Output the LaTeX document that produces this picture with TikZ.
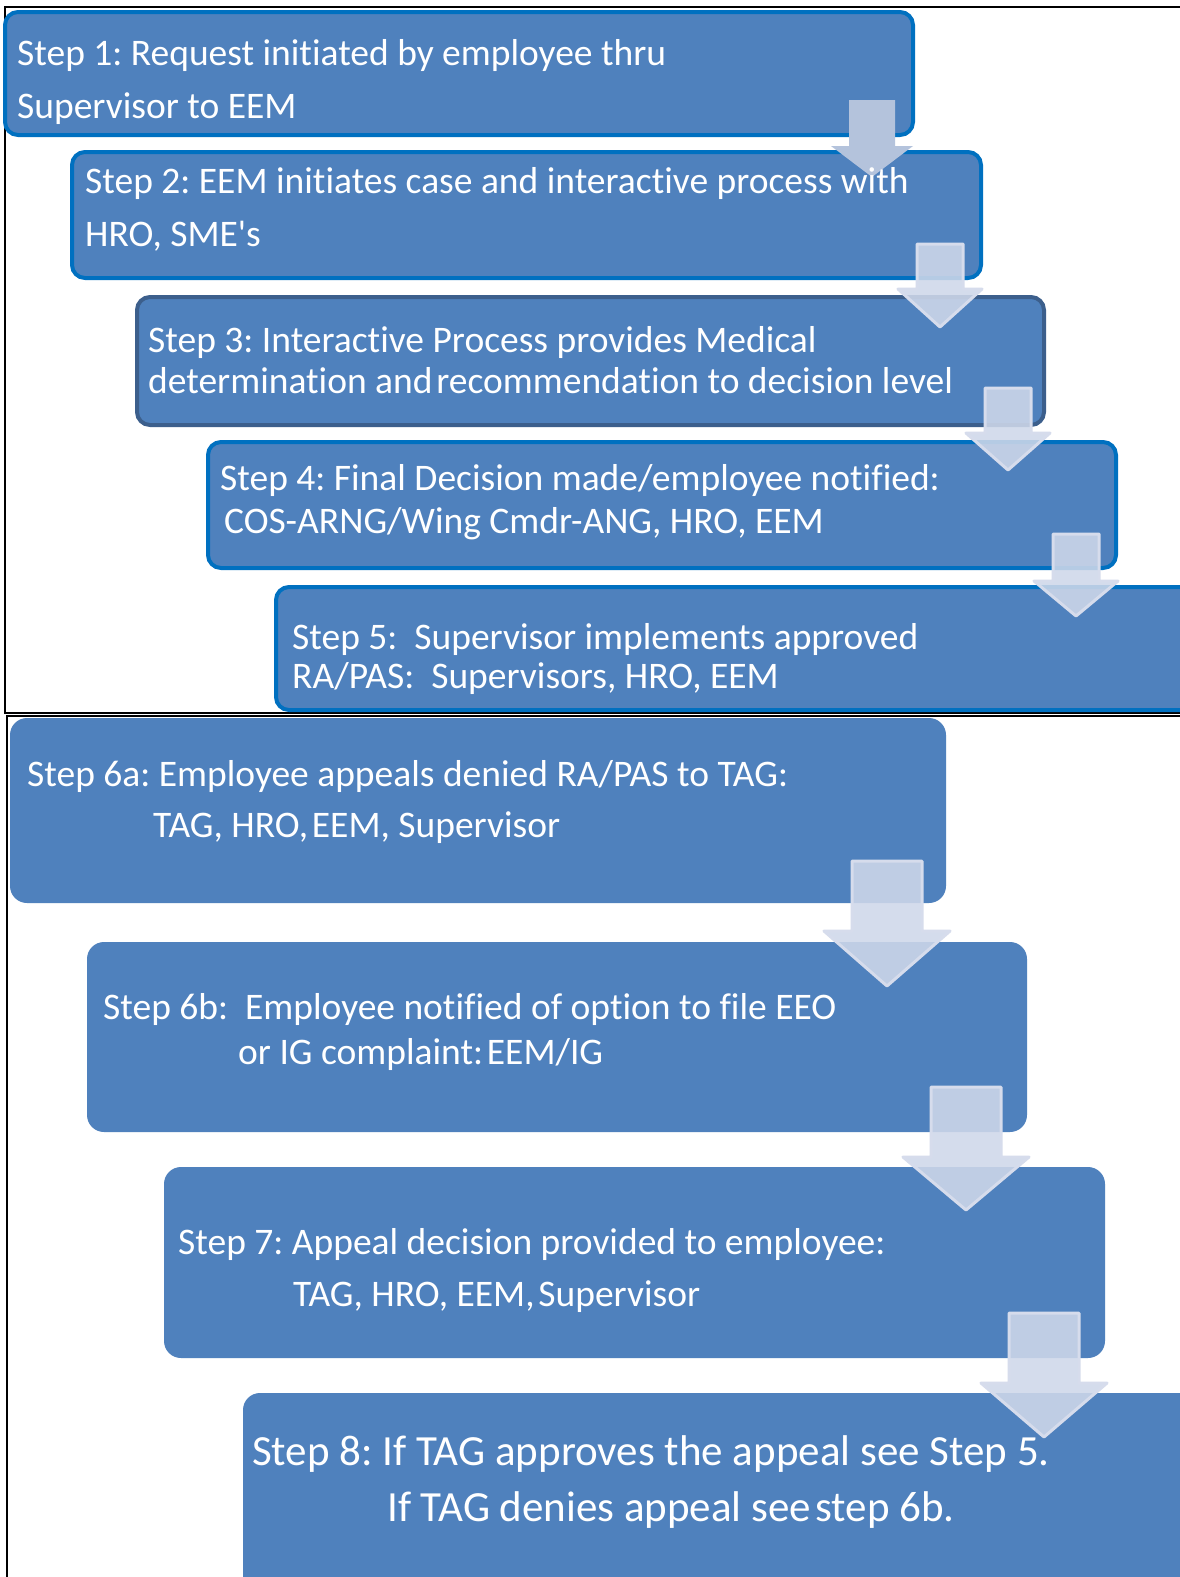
\documentclass[tikz,border=0pt]{standalone}
\usepackage{fontspec}
\setmainfont{Carlito}[Ligatures={NoCommon}]
\usetikzlibrary{fit}
\definecolor{boxfill}{HTML}{4F81BD}
\definecolor{boxline}{HTML}{0070C0}
\definecolor{boxdark}{HTML}{3C5F8C}
\definecolor{arrowsolid}{HTML}{B4C3DC}
\definecolor{arrowfill}{HTML}{CFD8EA}
\definecolor{arrowedge}{HTML}{D6DCEC}
\newcommand{\blkarrow}[7]{%
  \path[#1] ({#2-#3},#4) -- ({#2+#3},#4) -- ({#2+#3},#6) -- ({#2+#5},#6) -- (#2,#7) -- ({#2-#5},#6) -- ({#2-#3},#6) -- cycle;}
\begin{document}
\frenchspacing
\begin{tikzpicture}[x=1pt,y=-1pt,
  stepbox/.style={rounded corners=13pt, fill=boxfill, draw=boxline, line width=4pt, inner sep=0pt},
  darkbox/.style={stepbox, draw=boxdark},
  plainbox/.style={rounded corners=17pt, fill=boxfill, inner sep=0pt},
  frameline/.style={draw=black, line width=2pt},
  lbl/.style={anchor=base west, inner sep=0pt, text=white, font=\fontsize{37.5}{37.5}\selectfont},
  biglbl/.style={lbl, font=\fontsize{43}{43}\selectfont},
  flatarrow/.style={fill=arrowsolid},
  softarrow/.style={fill=arrowfill, fill opacity=0.88, draw=arrowedge, line width=3pt, line join=round}]
\useasboundingbox (0,0) rectangle (1180,1577);
\clip (0,0) rectangle (1180,1577);
\fill[white] (0,0) rectangle (1180,1577);

% frames
\draw[frameline] (1200,7) -- (5,7) -- (5,713) -- (1200,713);
\draw[frameline] (1200,716) -- (7,716) -- (7,1600);

% top section boxes
\node[stepbox, fit={(5,12) (913,135)}] (b1) {};
\node[stepbox, fit={(72,152) (981,278)}] (b2) {};
\node[darkbox, fit={(137,297) (1044,425)}] (b3) {};
\node[stepbox, fit={(208,442) (1116,568)}] (b4) {};
\node[stepbox, fit={(276,587) (1200,710)}] (b5) {};

% bottom section boxes
\node[plainbox, fit={(10,718) (946,903)}] (b6a) {};
\node[plainbox, fit={(87,942) (1027,1132)}] (b6b) {};
\node[plainbox, fit={(164,1167) (1105,1358)}] (b7) {};
\node[plainbox, fit={(243,1393) (1200,1620)}] (b8) {};

% block arrows
\blkarrow{flatarrow}{872}{23}{100}{41}{146}{177}
\blkarrow{softarrow}{940}{23}{244}{42}{289}{327}
\blkarrow{softarrow}{1008}{23}{388}{42}{433}{470}
\blkarrow{softarrow}{1076}{23}{534}{42}{581}{616}
\blkarrow{softarrow}{887}{35}{861}{63}{931}{986}
\blkarrow{softarrow}{966}{35}{1087}{63}{1157}{1210}
\blkarrow{softarrow}{1044}{35}{1313}{63}{1383}{1437}

% texts
\node[lbl] (t1a) at (17,65) {Step 1: Request initiated by employee thru};
\node[lbl] (t1b) at (17,118) {Supervisor to EEM};
\node[lbl] (t2a) at (85,193) {Step 2: EEM initiates case and interactive process with};
\node[lbl] (t2b) at (85,246) {HRO, SME\textquotesingle s};
\node[lbl] (t3a) at (148,352) {Step 3: Interactive Process provides Medical};
\node[lbl] (t3b) at (148,393) {determination and\hspace{0.1em}recommendation to decision level};
\node[lbl] (t4a) at (220,490) {Step 4: Final Decision made/employee notified:};
\node[lbl] (t4b) at (224,533) {COS-ARNG/Wing Cmdr-ANG, HRO, EEM};
\node[lbl] (t5a) at (292,649) {Step 5:\ \ Supervisor implements approved};
\node[lbl] (t5b) at (292,688) {RA/PAS:\ \ Supervisors, HRO, EEM};
\node[lbl] (t6a) at (27,786) {Step 6a: Employee appeals denied RA/PAS to TAG:};
\node[lbl] (t6b) at (153,837) {TAG, HRO,\hspace{0.1em}EEM, Supervisor};
\node[lbl] (t6c) at (103,1019) {Step 6b:\ \ Employee notified of option to file EEO};
\node[lbl] (t6d) at (238,1064) {or IG complaint:\hspace{0.1em}EEM/IG};
\node[lbl] (t7a) at (178,1254) {Step 7: Appeal decision provided to employee:};
\node[lbl] (t7b) at (293,1306) {TAG, HRO, EEM,\hspace{0.1em}Supervisor};
\node[biglbl] (t8a) at (252,1465) {Step 8: If TAG approves the appeal see Step 5.};
\node[biglbl] (t8b) at (387,1521) {If TAG denies appeal see\hspace{0.1em}step 6b.};
\end{tikzpicture}
\end{document}
